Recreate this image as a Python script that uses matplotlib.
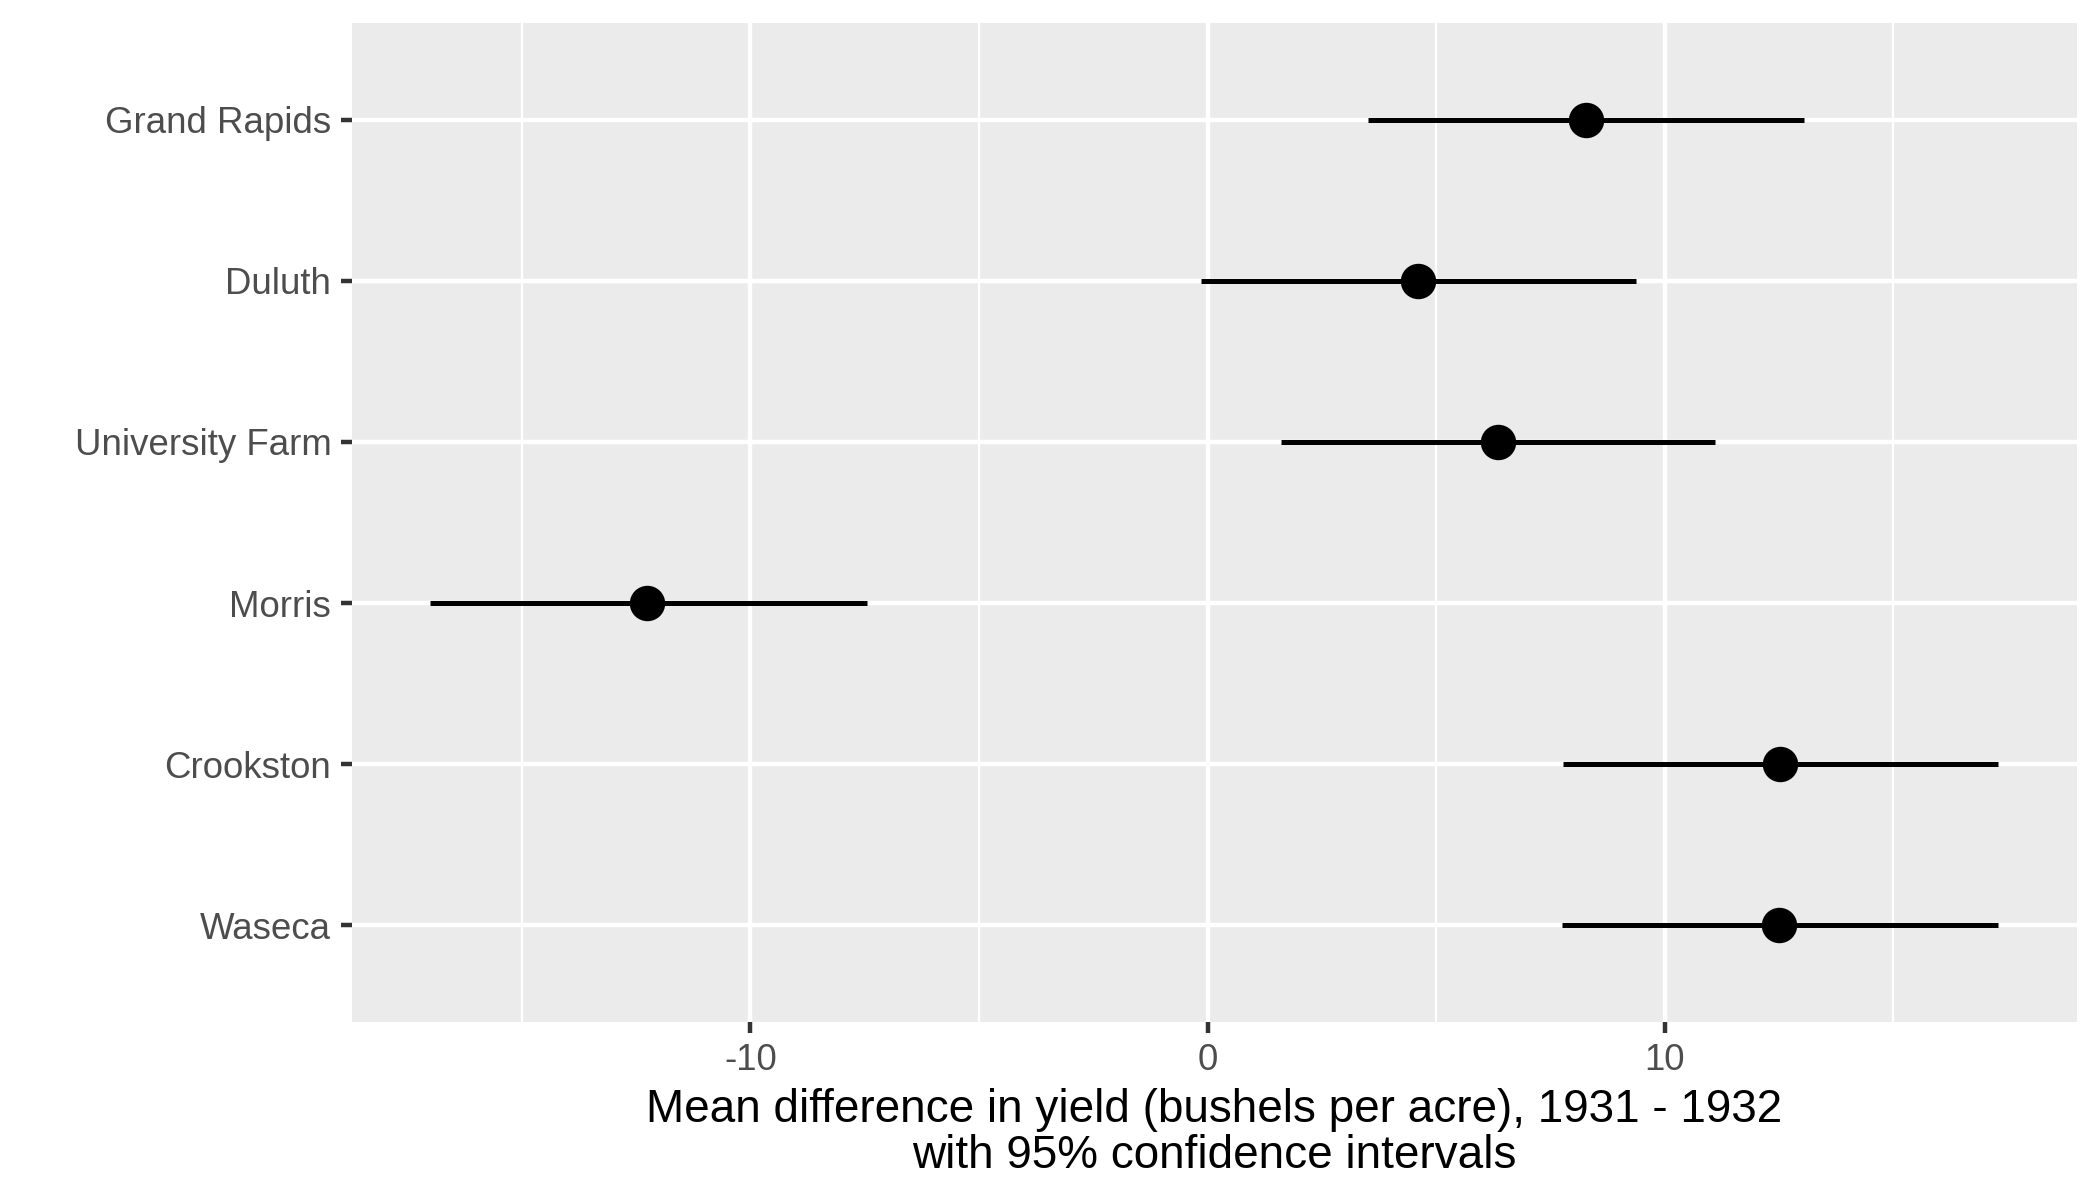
import matplotlib
matplotlib.use("Agg")
import matplotlib.pyplot as plt
import numpy as np

plt.rcParams['font.family'] = ['Liberation Sans', 'DejaVu Sans']
plt.rcParams['axes.unicode_minus'] = False

# values
sites = ['Waseca', 'Crookston', 'Morris', 'University Farm', 'Duluth', 'Grand Rapids']
mean_diff = [12.49, 12.52, -12.26, 6.36, 4.60, 8.27]
ci_low = [7.75, 7.77, -17.00, 1.61, -0.15, 3.52]
ci_high = [17.30, 17.30, -7.45, 11.11, 9.38, 13.05]

fig = plt.figure(figsize=(7, 4), dpi=300)
ax = fig.add_axes([0.1676, 0.1483, 0.8214, 0.8325])
ax.set_facecolor('#EBEBEB')

ypos = np.arange(len(sites))
ax.hlines(ypos, ci_low, ci_high, color='black', linewidth=1.2, zorder=3)
ax.plot(mean_diff, ypos, 'o', color='black', markersize=7.5, zorder=4)

lo, hi = min(ci_low), max(ci_high)
pad = (hi - lo) * 0.05
ax.set_xlim(lo - pad, hi + pad)
ax.set_ylim(-0.6, len(sites) - 0.4)

ax.set_xticks([-10, 0, 10])
ax.set_xticks([-15, -5, 5, 15], minor=True)
ax.set_yticks(ypos)
ax.set_yticklabels(sites)

ax.grid(which='major', color='white', linewidth=1.07)
ax.grid(which='minor', axis='x', color='white', linewidth=0.53)
ax.set_axisbelow(True)
for s in ax.spines.values():
    s.set_visible(False)

ax.tick_params(which='major', length=2.75, width=1.07, color='#333333',
               labelsize=8.8, labelcolor='#4D4D4D', pad=2.2)
ax.tick_params(which='minor', length=0)

ax.set_xlabel('Mean difference in yield (bushels per acre), 1931 - 1932\n'
              'with 95% confidence intervals', fontsize=11, color='black',
              linespacing=1.05, labelpad=2.5)

fig.savefig('out.png', dpi=300, facecolor='white')
